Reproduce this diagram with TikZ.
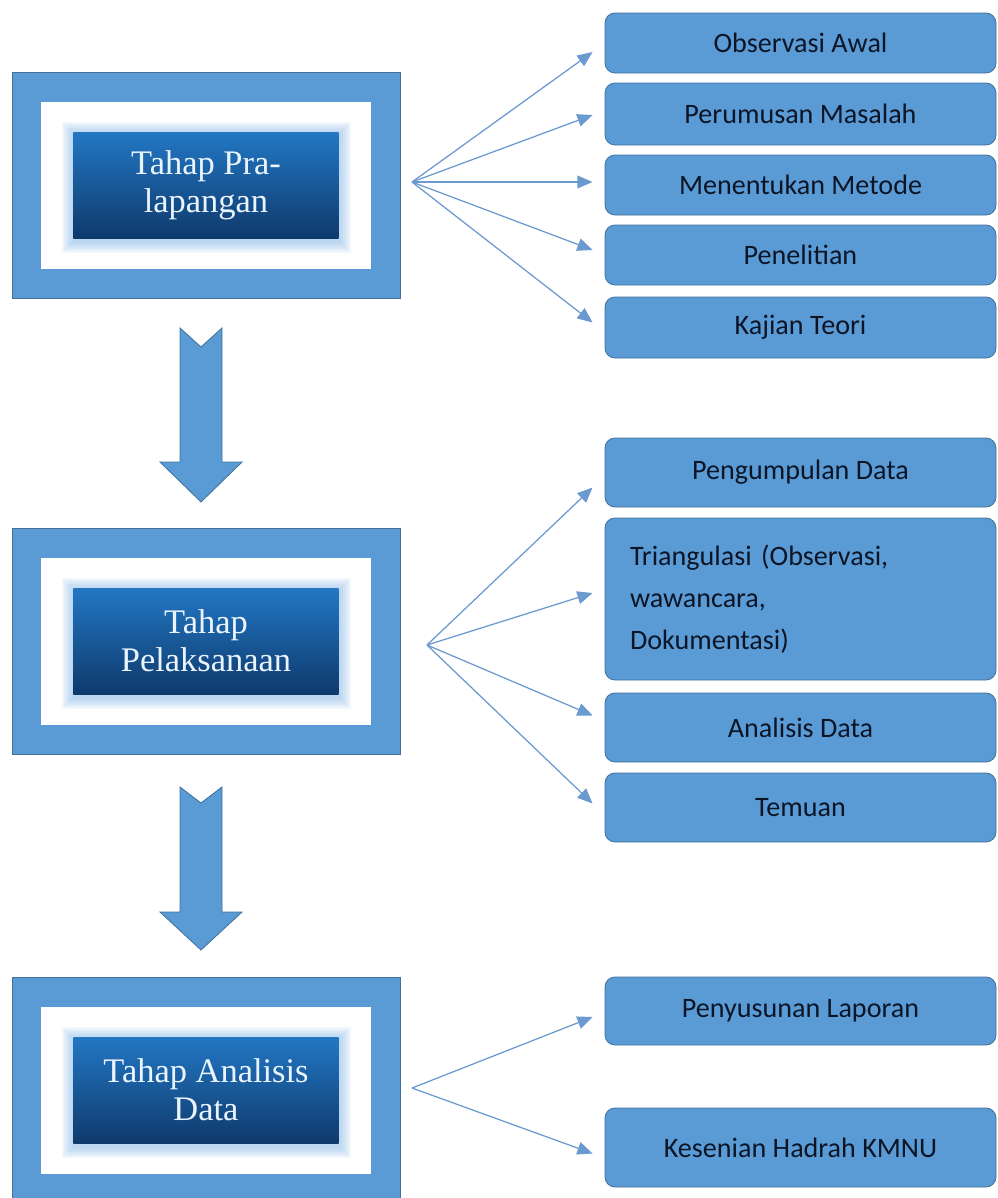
\documentclass[tikz,border=0pt]{standalone}
\usepackage{fontspec}
\setmainfont{Liberation Serif}
\newfontfamily\itemfont{Carlito}
\usepackage{tikz}
\usetikzlibrary{
	arrows.meta,
	positioning,
	calc,
	}
\definecolor{boxblue}{HTML}{5B9BD5}
\definecolor{edgeblue}{HTML}{41719C}
\definecolor{linkblue}{HTML}{6B9AD0}
\definecolor{glowblue}{HTML}{8DBDEB}
\definecolor{darktop}{HTML}{2377C4}
\definecolor{darkbot}{HTML}{0E3A6C}
\definecolor{textnavy}{HTML}{0B1526}
\definecolor{paletext}{HTML}{E9F4FF}

\begin{document}
\begin{tikzpicture}[x=0.25mm,y=-0.25mm,
frame/.style={draw=edgeblue,fill=boxblue,line width=0.6pt,minimum width=97mm,minimum height=56.5mm,inner sep=0pt,outer sep=0pt},
pane/.style={fill=white,minimum width=82.5mm,minimum height=41.75mm,inner sep=0pt,outer sep=0pt},
title/.style={top color=darktop,bottom color=darkbot,minimum width=66.25mm,minimum height=26.5mm,inner sep=0pt,align=center,text=paletext,font=\fontsize{24.5}{27}\selectfont},
item/.style={draw=edgeblue,fill=boxblue,rounded corners=2.5mm,line width=0.6pt,minimum width=97.75mm,inner sep=0pt,text=textnavy,font=\itemfont\fontsize{20}{25}\selectfont},
link/.style={draw=linkblue,line width=0.9pt,-{Triangle[length=3.8mm,width=3.2mm]}},
bigarrow/.style={draw=edgeblue,fill=boxblue,line width=0.6pt}]
\useasboundingbox (0,0) rectangle (998,1198);
% stages
\node[frame] (s1) at (206,185) {};
\node[pane] (w1) at (s1.center) {};
\node[frame] (s2) at (206,641) {};
\node[pane] (w2) at (s2.center) {};
\node[frame] (s3) at (206,1090) {};
\node[pane] (w3) at (s3.center) {};
\foreach \w in {w1,w2,w3}
  \foreach \g in {2,4,...,12}
    \fill[glowblue,opacity=0.13] ($(\w.center)+(-132.5-\g,-51-\g)$) rectangle ($(\w.center)+(132.5+\g,56+\g)$);
\node[title] (d1) at (w1.center) {Tahap Pra-\\lapangan};
\node[title] (d2) at (w2.center) {Tahap\\Pelaksanaan};
\node[title] (d3) at (w3.center) {Tahap Analisis\\Data};
% block arrows between stages
\foreach \t/\n/\h/\b in {328/347/462/502,787/803/912/950}
  \draw[bigarrow] (180,\t) -- (201,\n) -- (222,\t) -- (222,\h) -- (242,\h) -- (201,\b) -- (160,\h) -- (180,\h) -- cycle;
% items
\node[item,minimum height=15mm] (ob) at (800.5,43) {Observasi Awal};
\node[item,minimum height=15.5mm] (pm) at (800.5,114) {Perumusan Masalah};
\node[item,minimum height=15mm] (mm) at (800.5,185) {Menentukan Metode};
\node[item,minimum height=15mm] (pn) at (800.5,255) {Penelitian};
\node[item,minimum height=15.25mm] (kt) at (800.5,327.5) {Kajian Teori};
\node[item,minimum height=17.25mm] (pd) at (800.5,472.5) {Pengumpulan Data};
\node[item,minimum height=40.5mm,align=left,inner xsep=6.25mm,text width=85.25mm,font=\itemfont\fontsize{20}{30}\selectfont] (tr) at (800.5,599) {Triangulasi (Observasi,\\wawancara,\\Dokumentasi)};
\node[item,minimum height=17.25mm] (ad) at (800.5,727.5) {Analisis Data};
\node[item,minimum height=17.25mm] (tm) at (800.5,807.5) {Temuan};
\node[item,minimum height=17mm] (pl) at (800.5,1011) {Penyusunan Laporan};
\node[item,minimum height=19.75mm] (kh) at (800.5,1147.5) {Kesenian Hadrah KMNU};
% fans
\coordinate (f1) at ($(s1.east)+(12,-3)$);
\coordinate (f2) at ($(s2.east)+(27,4)$);
\coordinate (f3) at ($(s3.east)+(12,-2)$);
\draw[link] (f1) -- ($(ob.west)+(-12,9)$);
\draw[link] (f1) -- ($(pm.west)+(-12,1)$);
\draw[link] (f1) -- ($(mm.west)+(-12,-3)$);
\draw[link] (f1) -- ($(pn.west)+(-12,-5)$);
\draw[link] (f1) -- ($(kt.west)+(-12,-5)$);
\draw[link] (f2) -- ($(pd.west)+(-12,15)$);
\draw[link] (f2) -- ($(tr.west)+(-12,-6)$);
\draw[link] (f2) -- ($(ad.west)+(-12,-12)$);
\draw[link] (f2) -- ($(tm.west)+(-12,-4)$);
\draw[link] (f3) -- ($(pl.west)+(-12,6)$);
\draw[link] (f3) -- ($(kh.west)+(-12,6)$);
\end{tikzpicture}
\end{document}
